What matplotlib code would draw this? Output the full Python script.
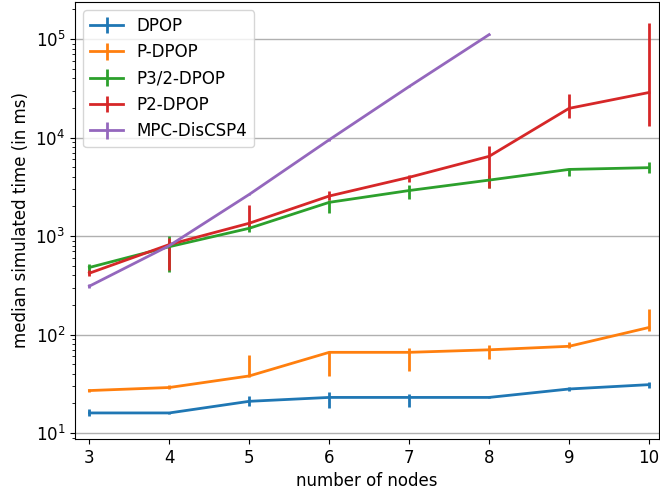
import matplotlib
matplotlib.use("Agg")
import matplotlib.pyplot as plt
import numpy as np

nodes = [3, 4, 5, 6, 7, 8, 9, 10]
nodes_mpc = [3, 4, 5, 6, 7, 8]

# median values (ms) and lower / upper ends of the error bars
dpop = [16, 16, 21, 23, 23, 23, 28, 31]
dpop_lo = [15, 15.5, 19, 18, 18.5, 22.5, 27, 29]
dpop_hi = [17.5, 16.5, 24, 26, 25, 24, 29.5, 33]

pdpop = [27, 29, 38, 66, 66, 70, 76, 118]
pdpop_lo = [26, 28, 37, 38, 43, 57, 73, 108]
pdpop_hi = [28, 31, 62, 67, 73, 79, 84, 180]

p32dpop = [480, 780, 1200, 2200, 2900, 3700, 4750, 4950]
p32dpop_lo = [430, 430, 1100, 1700, 2400, 3100, 4100, 4400]
p32dpop_hi = [520, 1000, 1300, 2350, 3300, 4150, 4850, 5600]

p2dpop = [420, 820, 1350, 2550, 3950, 6450, 19800, 28700]
p2dpop_lo = [390, 450, 1250, 2300, 3500, 3100, 15700, 13200]
p2dpop_hi = [450, 960, 2070, 2850, 4200, 8300, 28000, 147000]

mpc = [310, 800, 2650, 9500, 33000, 111000]
mpc_lo = [295, 780, 2600, 9300, 32500, 109000]
mpc_hi = [325, 820, 2700, 9700, 33500, 113000]

series = [
    ("DPOP", nodes, dpop, dpop_lo, dpop_hi),
    ("P-DPOP", nodes, pdpop, pdpop_lo, pdpop_hi),
    ("P3/2-DPOP", nodes, p32dpop, p32dpop_lo, p32dpop_hi),
    ("P2-DPOP", nodes, p2dpop, p2dpop_lo, p2dpop_hi),
    ("MPC-DisCSP4", nodes_mpc, mpc, mpc_lo, mpc_hi),
]

plt.rcParams['font.size'] = 12

fig, ax = plt.subplots(figsize=(6.6, 4.98), dpi=100)

for name, xs, med, lo, hi in series:
    med = np.array(med, dtype=float)
    yerr = np.array([med - np.array(lo), np.array(hi) - med])
    ax.errorbar(xs, med, yerr=yerr, linewidth=2, elinewidth=2, label=name)

ax.set_yscale('log')
ax.set_ylim(8.7, 2.38e5)
ax.set_xlim(2.82, 10.12)
ax.set_xticks(nodes)
ax.yaxis.grid(True, which='major', color='#b0b0b0', linewidth=1)
ax.set_axisbelow(True)
ax.set_xlabel("number of nodes")
ax.set_ylabel("median simulated time (in ms)")
ax.legend(loc='upper left')

fig.subplots_adjust(left=75/660, right=658.6/660, bottom=59/498, top=496/498)
fig.savefig("out.png")
